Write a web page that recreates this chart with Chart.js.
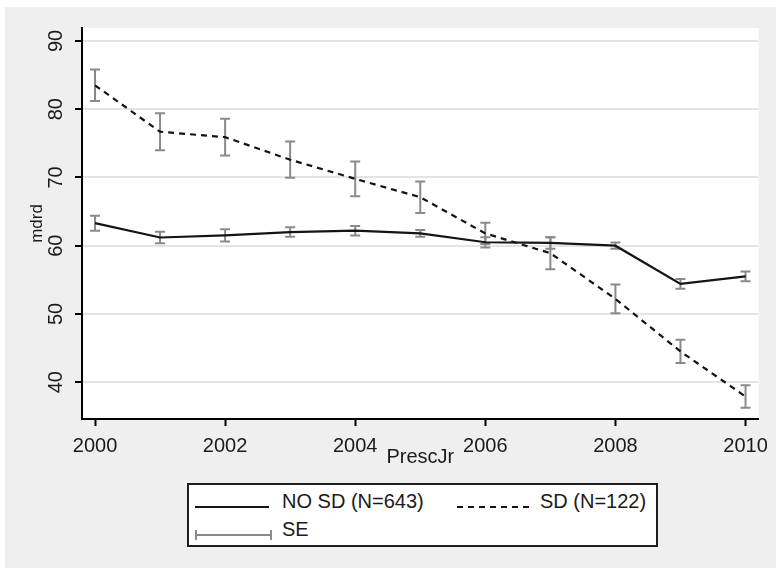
<!DOCTYPE html>
<html>
<head>
<meta charset="utf-8">
<script src="https://cdn.jsdelivr.net/npm/chart.js@4/dist/chart.umd.min.js"></script>
<style>
html,body{margin:0;padding:0;background:#ffffff;}
#wrap{position:relative;width:776px;height:568px;background:#ffffff;overflow:hidden;}
#bg{position:absolute;left:5px;top:7px;right:0;bottom:0;background:#efefef;}
#c{position:absolute;left:0;top:0;}
#legend{position:absolute;left:187px;top:483px;width:467px;height:60px;border:2px solid #1e1e1e;background:#ffffff;
  font-family:"Liberation Sans",Arial,sans-serif;font-size:20px;color:#1a1a1a;}
.lg-s{position:absolute;}
.lg-t{position:absolute;line-height:24px;height:24px;white-space:nowrap;}
</style>
</head>
<body>
<div id="wrap">
  <div id="bg"></div>
  <canvas id="c" width="776" height="568"></canvas>
  <div id="legend"></div>
</div>
<script>
// ---- data ----
const years = [2000, 2001, 2002, 2003, 2004, 2005, 2006, 2007, 2008, 2009, 2010];
const noSdMean = [63.3, 61.2, 61.5, 62.0, 62.2, 61.8, 60.5, 60.4, 60.0, 54.4, 55.5];
const noSdSE   = [1.1, 0.85, 0.9, 0.7, 0.7, 0.5, 0.75, 0.85, 0.45, 0.7, 0.7];
const sdMean   = [83.5, 76.7, 75.9, 72.6, 69.8, 67.1, 61.8, 58.9, 52.2, 44.5, 37.9];
const sdSE     = [2.3, 2.7, 2.7, 2.65, 2.55, 2.3, 1.55, 2.35, 2.1, 1.7, 1.65];
const xTicks = [2000, 2002, 2004, 2006, 2008, 2010];
const yTicks = [40, 50, 60, 70, 80, 90];
const seriesNames = ['NO SD (N=643)', 'SD (N=122)'];
const seLabel = 'SE';
const xTitle = 'PrescJr';
const yTitle = 'mdrd';

const FAMILY = '"Liberation Sans", Arial, sans-serif';
const INK = '#1a1a1a';
const LINE = '#141414';
const ERR = '#8a8a8a';

const plotBg = {
  id: 'plotBg',
  beforeDraw(chart) {
    const {ctx, chartArea: a} = chart;
    ctx.save();
    ctx.fillStyle = '#ffffff';
    ctx.fillRect(a.left, a.top, a.right - a.left, a.bottom - a.top);
    ctx.restore();
  }
};

const errorBars = {
  id: 'errorBars',
  beforeDatasetsDraw(chart) {
    const {ctx, scales: {x, y}} = chart;
    ctx.save();
    ctx.strokeStyle = ERR;
    ctx.lineWidth = 2;
    [[noSdMean, noSdSE], [sdMean, sdSE]].forEach(([m, s]) => {
      years.forEach((yr, i) => {
        const px = x.getPixelForValue(yr);
        const top = y.getPixelForValue(m[i] + s[i]);
        const bot = y.getPixelForValue(m[i] - s[i]);
        ctx.beginPath();
        ctx.moveTo(px, top); ctx.lineTo(px, bot);
        ctx.moveTo(px - 5, top); ctx.lineTo(px + 5, top);
        ctx.moveTo(px - 5, bot); ctx.lineTo(px + 5, bot);
        ctx.stroke();
      });
    });
    ctx.restore();
  }
};

new Chart(document.getElementById('c'), {
  type: 'line',
  data: {
    datasets: [
      {
        label: seriesNames[0],
        data: years.map((yr, i) => ({x: yr, y: noSdMean[i]})),
        borderColor: LINE, borderWidth: 2.2, pointRadius: 0, tension: 0, fill: false
      },
      {
        label: seriesNames[1],
        data: years.map((yr, i) => ({x: yr, y: sdMean[i]})),
        borderColor: LINE, borderWidth: 2.2, borderDash: [6, 5], pointRadius: 0, tension: 0, fill: false
      }
    ]
  },
  options: {
    responsive: false,
    animation: false,
    devicePixelRatio: 1,
    layout: {padding: {left: 0, right: 12, top: 28, bottom: 0}},
    plugins: {legend: {display: false}, tooltip: {enabled: false}},
    scales: {
      x: {
        type: 'linear', min: 1999.8, max: 2010.2,
        afterBuildTicks(s) { s.ticks = xTicks.map(v => ({value: v})); },
        afterFit(s) { s.height = 149; },
        grid: {drawOnChartArea: false, drawTicks: true, tickLength: 7, tickColor: '#000', tickWidth: 2},
        border: {display: true, color: '#000', width: 2},
        ticks: {color: INK, font: {family: FAMILY, size: 20}, padding: 8, maxRotation: 0, minRotation: 0,
                callback: v => String(v)},
        title: {display: true, text: xTitle, color: INK, font: {family: FAMILY, size: 20},
                padding: {top: 0, bottom: 99}}
      },
      y: {
        type: 'linear', min: 34.6, max: 91.9,
        afterBuildTicks(s) { s.ticks = yTicks.map(v => ({value: v})); },
        afterFit(s) { s.width = 82; },
        grid: {color: '#e4e4e4', lineWidth: 2, drawTicks: true, tickLength: 7, tickColor: '#000', tickWidth: 2},
        border: {display: true, color: '#000', width: 2},
        ticks: {color: INK, font: {family: FAMILY, size: 20}, padding: 7, minRotation: 90, maxRotation: 90,
                crossAlign: 'center', callback: v => String(v)},
        title: {display: true, text: yTitle, color: INK, font: {family: FAMILY, size: 17},
                padding: {top: 27, bottom: 0}}
      }
    }
  },
  plugins: [plotBg, errorBars]
});

// ---- HTML legend ----
(function () {
  const lg = document.getElementById('legend');
  function sample(svg, left, cy) {
    const d = document.createElement('div');
    d.className = 'lg-s';
    d.style.left = left + 'px';
    d.style.top = (cy - 6) + 'px';
    d.innerHTML = svg;
    lg.appendChild(d);
  }
  function text(t, left, cy) {
    const s = document.createElement('div');
    s.className = 'lg-t';
    s.style.left = left + 'px';
    s.style.top = (cy - 12) + 'px';
    s.textContent = t;
    lg.appendChild(s);
  }
  const solid = '<svg width="74" height="12"><line x1="0" y1="6" x2="74" y2="6" stroke="' + LINE + '" stroke-width="2"/></svg>';
  const dashed = '<svg width="74" height="12"><line x1="0" y1="6" x2="74" y2="6" stroke="' + LINE + '" stroke-width="2" stroke-dasharray="6 5"/></svg>';
  const se = '<svg width="78" height="12"><g stroke="' + ERR + '" stroke-width="2"><line x1="1" y1="6" x2="76" y2="6"/><line x1="1" y1="1" x2="1" y2="11"/><line x1="76" y1="1" x2="76" y2="11"/></g></svg>';
  sample(solid, 6, 16);
  text(seriesNames[0], 93, 16);
  sample(dashed, 268, 16);
  text(seriesNames[1], 351, 16);
  sample(se, 6, 44);
  text(seLabel, 93, 44);
})();
</script>
</body>
</html>
